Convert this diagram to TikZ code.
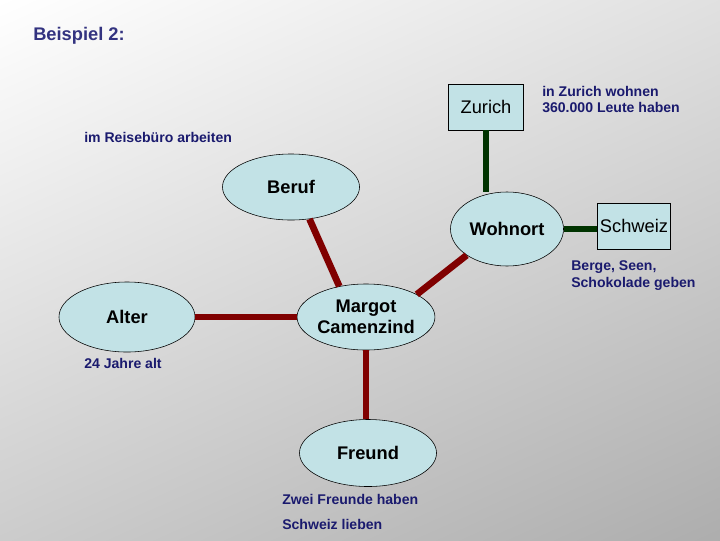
\documentclass[tikz,border=0pt]{standalone}
\usepackage{fontspec}
\setmainfont{Liberation Sans}
\usetikzlibrary{shapes.geometric, shadings}
\definecolor{feld}{HTML}{C2E2E6}
\definecolor{rotlinie}{HTML}{800000}
\definecolor{gruenlinie}{HTML}{003300}
\definecolor{notiz}{HTML}{1A1A6E}
\definecolor{titel}{HTML}{333380}
\begin{document}
\begin{tikzpicture}[
  x=0.025cm, y=-0.025cm,
  oval/.style={ellipse, draw=black, fill=feld, inner sep=0pt, font=\fontsize{13}{15}\selectfont\bfseries},
  schild/.style={rectangle, draw=black, fill=feld, inner sep=0pt, font=\fontsize{13}{15}\selectfont},
  rot/.style={line width=4.8pt, draw=rotlinie},
  gruen/.style={line width=4.8pt, draw=gruenlinie},
  notiztext/.style={text=notiz, font=\fontsize{10}{12}\selectfont\bfseries, align=left, anchor=west, inner sep=0pt}
]
  \useasboundingbox (0,0) rectangle (720,540);

  % --- Hintergrund ---
  \shade[upper left=white, upper right=black!12, lower left=black!20, lower right=black!32] (0,0) rectangle (720,540);

  % Titel
  \node[text=titel, font=\fontsize{13}{15}\selectfont\bfseries, anchor=west, inner sep=0pt] (titel) at (33,36) {Beispiel 2:};

  % --- Ellipsen ---
  \node[oval, minimum width=3.425cm, minimum height=1.65cm] (beruf)   at (291,187) {Beruf};
  \node[oval, minimum width=2.825cm, minimum height=1.85cm] (wohnort) at (507,229) {Wohnort};
  \node[oval, minimum width=3.4cm, minimum height=1.65cm, align=center] (margot) at (366,317) {Margot\\Camenzind};
  \node[oval, minimum width=3.4cm, minimum height=1.75cm] (alter)     at (127,317) {Alter};
  \node[oval, minimum width=3.425cm, minimum height=1.675cm] (freund) at (368,453) {Freund};

  % --- Rechtecke ---
  \node[schild, minimum width=1.875cm, minimum height=1.15cm] (zurich)  at (486,107) {Zurich};
  \node[schild, minimum width=1.825cm, minimum height=1.15cm] (schweiz) at (634,226) {Schweiz};

  % Verbindungen (rot)
  \draw[rot] (beruf.-60) -- (margot.131);
  \draw[rot] (margot.24) -- (wohnort.213);
  \draw[rot] (alter) -- (margot);
  \draw[rot] (margot.south) -- (freund.north -| margot.south);

  % Verbindungen (gruen)
  \draw[gruen] (zurich.south) -- (wohnort.north -| zurich.south);
  \draw[gruen] (wohnort.east) -- (schweiz.west |- wohnort.east);

  % --- Notizen ---
  \node[notiztext] (n1) at (542,99.5) {in Zurich wohnen\\360.000 Leute haben};
  \node[notiztext] (n2) at (84,137) {im Reiseb\"uro arbeiten};
  \node[notiztext] (n3) at (571,275.5) {Berge, Seen,\\Schokolade geben};
  \node[notiztext] (n4) at (84,363) {24 Jahre alt};
  \node[notiztext] (n5) at (282,499) {Zwei Freunde haben};
  \node[notiztext] (n6) at (282,524) {Schweiz lieben};
\end{tikzpicture}
\end{document}
